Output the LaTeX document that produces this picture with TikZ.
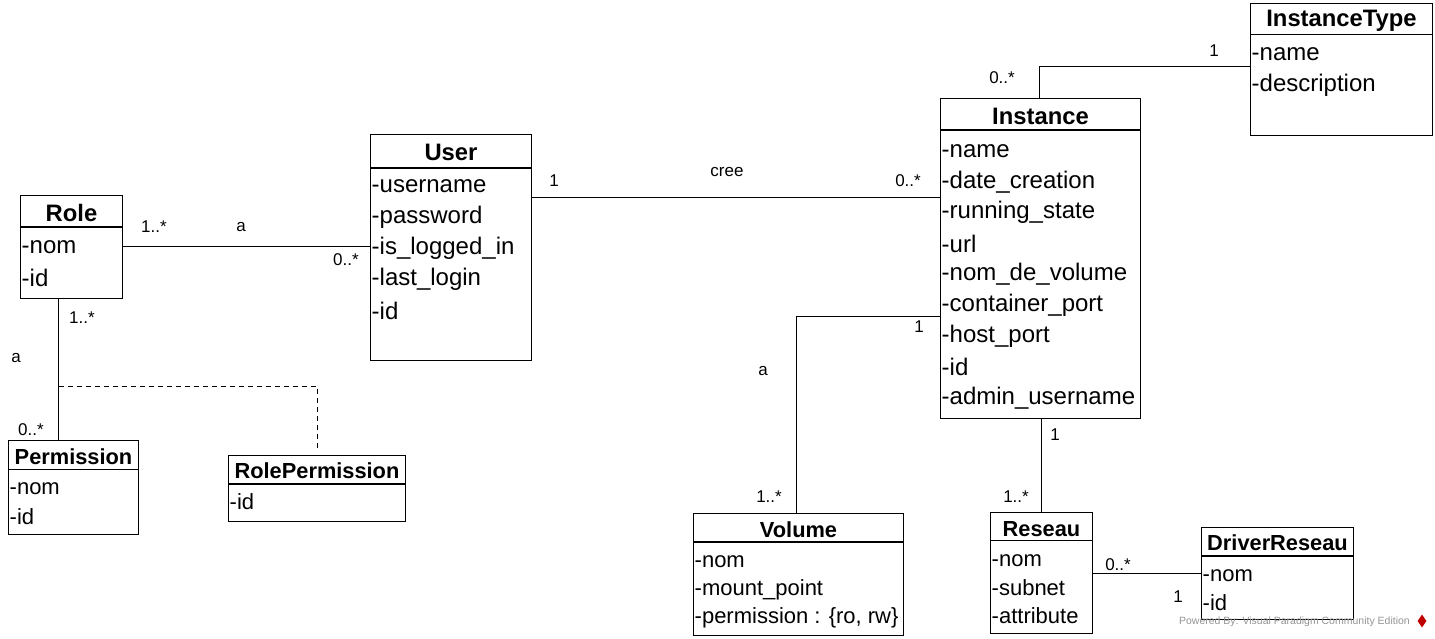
\documentclass[tikz,border=0pt]{standalone}
\usepackage{fontspec}
\setmainfont{Liberation Sans}
\usetikzlibrary{shapes.geometric}
\begin{document}
\begin{tikzpicture}[x=1pt,y=-1pt,
  cls/.style={draw, line width=1.1pt, inner sep=0pt, anchor=north west},
  hdA/.style={font=\bfseries\fontsize{23.8}{24}\selectfont, inner sep=0pt},
  hdB/.style={font=\bfseries\fontsize{21.8}{22}\selectfont, inner sep=0pt},
  attrA/.style={font=\fontsize{24}{24}\selectfont, inner sep=0pt, anchor=west},
  attrB/.style={font=\fontsize{22}{22}\selectfont, inner sep=0pt, anchor=west},
  lbl/.style={font=\fontsize{17}{18}\selectfont, inner sep=0pt},
  conn/.style={line width=1.1pt},
  divl/.style={line width=1.1pt}
]
\useasboundingbox (0,0) rectangle (1435,639);

% ---- class boxes
\node[cls, minimum width=102pt, minimum height=103pt] (role) at (20,195) {};
\node[cls, minimum width=161pt, minimum height=226pt] (user) at (370,134) {};
\node[cls, minimum width=200pt, minimum height=320pt] (inst) at (940,98) {};
\node[cls, minimum width=182pt, minimum height=132pt] (itype) at (1250,3) {};
\node[cls, minimum width=130pt, minimum height=94pt] (perm) at (8,440) {};
\node[cls, minimum width=177pt, minimum height=66pt] (rp) at (228,455) {};
\node[cls, minimum width=210pt, minimum height=122pt] (vol) at (693,513) {};
\node[cls, minimum width=102pt, minimum height=121pt] (res) at (990,512) {};
\node[cls, minimum width=152pt, minimum height=92pt] (drv) at (1201,527) {};

% ---- dividers
\draw[divl] (role.west |- 0,227) -- (role.east |- 0,227);
\draw[divl] (user.west |- 0,168) -- (user.east |- 0,168);
\draw[divl] (inst.west |- 0,130) -- (inst.east |- 0,130);
\draw[divl] (itype.west |- 0,34.5) -- (itype.east |- 0,34.5);
\draw[divl] (perm.west |- 0,469.5) -- (perm.east |- 0,469.5);
\draw[divl] (rp.west |- 0,484) -- (rp.east |- 0,484);
\draw[divl] (vol.west |- 0,542) -- (vol.east |- 0,542);
\draw[divl] (res.west |- 0,540.5) -- (res.east |- 0,540.5);
\draw[divl] (drv.west |- 0,556) -- (drv.east |- 0,556);

% ---- headers
\node[hdA] (roleH) at (71.5,212.5) {Role};
\node[hdA] (userH) at (451,152.5) {User};
\node[hdA] (instH) at (1040.5,116.5) {Instance};
\node[hdA] (itypeH) at (1341.5,20.5) {InstanceType};
\node[hdB] (permH) at (73.5,456.5) {Permission};
\node[hdB] (rpH) at (317,471) {RolePermission};
\node[hdB] (volH) at (798.5,530) {Volume};
\node[hdB] (resH) at (1041.5,529) {Reseau};
\node[hdB] (drvH) at (1277.5,543) {DriverReseau};

% ---- attributes
\node[attrA] (r1) at (21.5,247) {-nom};
\node[attrA] (r2) at (21.5,278) {-id};

\node[attrA] (u1) at (371.5,186.5) {-username};
\node[attrA] (u2) at (371.5,217.5) {-password};
\node[attrA] (u3) at (371.5,248.5) {-is\_logged\_in};
\node[attrA] (u4) at (371.5,279.5) {-last\_login};
\node[attrA] (u5) at (371.5,310.5) {-id};

\node[attrA] (i1) at (941.5,151) {-name};
\node[attrA] (i2) at (941.5,182) {-date\_creation};
\node[attrA] (i3) at (941.5,212.5) {-running\_state};
\node[attrA] (i4) at (941.5,243.5) {-url};
\node[attrA] (i5) at (941.5,274.5) {-nom\_de\_volume};
\node[attrA] (i6) at (941.5,305.5) {-container\_port};
\node[attrA] (i7) at (941.5,336) {-host\_port};
\node[attrA] (i8) at (941.5,367) {-id};
\node[attrA] (i9) at (941.5,398) {-admin\_username};

\node[attrA] (t1) at (1251.5,54) {-name};
\node[attrA] (t2) at (1251.5,85.5) {-description};

\node[attrB] (p1) at (9.5,489) {-nom};
\node[attrB] (p2) at (9.5,516.5) {-id};

\node[attrB] (rp1) at (229.5,502) {-id};

\node[attrB] (v1) at (694.5,562) {-nom};
\node[attrB] (v2) at (694.5,589.5) {-mount\_point};
\node[attrB] (v3) at (694.5,617.5) {-permission : \{ro, rw\}};

\node[attrB] (s1) at (991.5,560.5) {-nom};
\node[attrB] (s2) at (991.5,588) {-subnet};
\node[attrB] (s3) at (991.5,615.5) {-attribute};

\node[attrB] (d1) at (1202.5,575.5) {-nom};
\node[attrB] (d2) at (1202.5,602.5) {-id};

% ---- connectors
\draw[conn] (role.east |- 0,246.5) -- (user.west |- 0,246.5);
\draw[conn] (user.east |- 0,197.5) -- (inst.west |- 0,197.5);
\draw[conn] (role.south -| 58.5,0) -- (perm.north -| 58.5,0);
\coordinate (acj) at (58.5,386.5);
\draw[line width=0.9pt, dash pattern=on 5pt off 4pt] (acj) -| ([yshift=4pt]rp.north);
\draw[conn] (inst.north -| 1039.5,0) |- (itype.west |- 0,66.5);
\draw[conn] (inst.west |- 0,316.5) -| (vol.north -| 796.5,0);
\draw[conn] (inst.south -| 1041.5,0) -- (res.north -| 1041.5,0);
\draw[conn] (res.east |- 0,573.5) -- (drv.west |- 0,573.5);

% ---- labels
\node[lbl] (l1) at (154,227) {1..*};
\node[lbl] (l2) at (241,227) {a};
\node[lbl] (l3) at (346,260) {0..*};
\node[lbl] (l4) at (82,318) {1..*};
\node[lbl] (l5) at (16,358) {a};
\node[lbl] (l6) at (31,430) {0..*};
\node[lbl] (l7) at (554,181) {1};
\node[lbl] (l8) at (727,172) {cree};
\node[lbl] (l9) at (908,181) {0..*};
\node[lbl] (l10) at (1214,51) {1};
\node[lbl] (l11) at (1002,78) {0..*};
\node[lbl] (l12) at (919,327) {1};
\node[lbl] (l13) at (763,371) {a};
\node[lbl] (l14) at (769,497) {1..*};
\node[lbl] (l15) at (1055,435) {1};
\node[lbl] (l16) at (1016,497) {1..*};
\node[lbl] (l17) at (1118,565) {0..*};
\node[lbl] (l18) at (1178,597) {1};

% ---- watermark
\node[font=\fontsize{10.5}{11}\selectfont, text=black!42, inner sep=0pt, anchor=east] (wm) at (1410,622) {Powered By: Visual Paradigm Community Edition};
\node[diamond, fill=red!75!black, minimum width=9pt, minimum height=13pt, inner sep=0pt] (logo) at (1422,621) {};
\end{tikzpicture}
\end{document}
